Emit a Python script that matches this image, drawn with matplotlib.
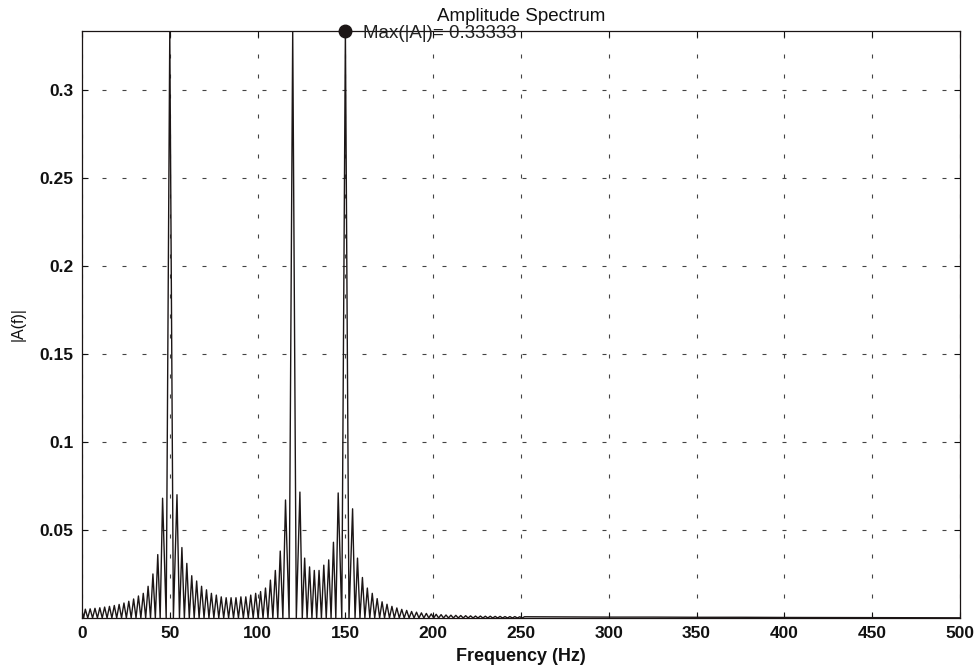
import numpy as np
import matplotlib
matplotlib.use("Agg")
import matplotlib.pyplot as plt

# Tone peaks of the spectrum (Hz, |A|)
tone_freq = [50.0, 120.0, 150.0]
tone_amp = [0.33333, 0.33333, 0.33333]

# Side-lobe peaks between 0 and 250 Hz
lobe_freq = [
    0.0, 1.9, 4.65, 7.4, 10.15, 12.9, 15.65, 18.4, 21.15, 23.9, 26.65, 29.4,
    32.15, 34.9, 37.65, 40.4, 43.15, 45.9,
    54.1, 56.9, 59.7, 62.5, 65.3, 68.1, 70.9, 73.7, 76.5, 79.3, 82.1, 84.9,
    87.7, 90.5, 93.3, 96.1, 98.9, 101.7, 104.5, 107.3, 110.1, 112.9, 115.9,
    124.1, 126.8, 129.6, 132.3, 135.0, 137.7, 140.5, 143.2, 145.9,
    154.1, 156.9, 159.7, 162.5, 165.3, 168.1, 170.9, 173.7, 176.5, 179.3,
    182.1, 184.9, 187.7, 190.5, 193.3, 196.1, 198.9, 201.7, 204.5, 207.3,
    210.1, 212.9, 215.7, 218.5, 221.3, 224.1, 226.9, 229.7, 232.5, 235.3,
    238.1, 240.9, 243.7, 246.5, 249.3,
]
lobe_amp = [
    0.0042, 0.0050, 0.0052, 0.0055, 0.0058, 0.0062, 0.0066, 0.0071, 0.0077,
    0.0085, 0.0095, 0.0108, 0.0125, 0.0140, 0.0180, 0.0250, 0.0360, 0.0680,
    0.0700, 0.0400, 0.0310, 0.0240, 0.0210, 0.0180, 0.0160, 0.0140, 0.0130,
    0.0120, 0.0115, 0.0115, 0.0115, 0.0120, 0.0120, 0.0130, 0.0140, 0.0150,
    0.0170, 0.0215, 0.0270, 0.0380, 0.0670,
    0.0715, 0.0340, 0.0290, 0.0270, 0.0270, 0.0300, 0.0330, 0.0430, 0.0710,
    0.0620, 0.0340, 0.0230, 0.0170, 0.0140, 0.0110, 0.0092, 0.0078, 0.0066,
    0.0057, 0.0049, 0.0043, 0.0037, 0.0033, 0.0029, 0.0026, 0.0023, 0.0021,
    0.0019, 0.0017, 0.0016, 0.0015, 0.0014, 0.0013, 0.0012, 0.0011, 0.0011,
    0.0010, 0.0010, 0.0009, 0.0009, 0.0008, 0.0008, 0.0008, 0.0007,
]

# Flat tail out to the Nyquist frequency
tail_freq = [252.0, 275.0, 300.0, 325.0, 350.0, 375.0, 400.0, 450.0, 500.0]
tail_amp = [0.0007, 0.0006, 0.0005, 0.0005, 0.0004, 0.0004, 0.0003, 0.0002, 0.0001]

x_ticks = [0, 50, 100, 150, 200, 250, 300, 350, 400, 450, 500]
y_ticks = [0.05, 0.1, 0.15, 0.2, 0.25, 0.3]
y_tick_labels = ["0.05", "0.1", "0.15", "0.2", "0.25", "0.3"]

# merge tones and side lobes, put a null between every pair of peaks
peak_freq = np.array(lobe_freq + tone_freq)
peak_amp = np.array(lobe_amp + tone_amp)
order = np.argsort(peak_freq)
peak_freq = peak_freq[order]
peak_amp = peak_amp[order]
null_freq = (peak_freq[:-1] + peak_freq[1:]) / 2

freq = np.empty(2 * len(peak_freq) - 1)
amp = np.zeros(2 * len(peak_freq) - 1)
freq[0::2] = peak_freq
freq[1::2] = null_freq
amp[0::2] = peak_amp
freq = np.concatenate([freq, [250.7], tail_freq])
amp = np.concatenate([amp, [0.0], tail_amp])

plt.rcParams['font.family'] = ['Liberation Sans', 'DejaVu Sans']

fig = plt.figure(figsize=(9.76, 6.65), dpi=100)
ax = fig.add_axes([0.084, 0.0707, 0.8996, 0.8827])

ax.plot(freq, amp, color="#1c1616", linewidth=1.0)

# mark the maximum (highest-frequency one when several tie)
i_max = int(np.flatnonzero(peak_amp == peak_amp.max())[-1])
ax.plot(peak_freq[i_max], peak_amp[i_max], "o", color="#1c1616",
        markersize=9, clip_on=False, zorder=5)
ax.text(peak_freq[i_max] + 10, peak_amp[i_max] - 0.0015,
        "Max(|A|)= %.5f" % peak_amp[i_max], fontsize=13.5,
        color="#222222", va="center", ha="left", zorder=6)

ax.set_xlim(0, 500)
ax.set_ylim(0, max(tone_amp))
ax.set_xticks(x_ticks)
ax.set_xticklabels([str(t) for t in x_ticks], fontweight="bold")
ax.set_yticks(y_ticks)
ax.set_yticklabels(y_tick_labels, fontweight="bold")
ax.tick_params(direction="in", length=4, labelsize=12.5, top=True,
               right=True, pad=6, colors="#111111")

ax.grid(True, color="#444444", linewidth=0.8, linestyle=(0, (3.6, 14.4)))
for spine in ax.spines.values():
    spine.set_linewidth(0.9)
    spine.set_color("#1a1414")

ax.set_title("Amplitude Spectrum", fontsize=13.5, pad=7, color="#111111")
ax.set_xlabel("Frequency (Hz)", fontsize=13, fontweight="bold",
              labelpad=5, color="#111111")
ax.set_ylabel("|A(f)|", fontsize=11.5, labelpad=10, color="#111111")

fig.savefig("out.png", dpi=100, facecolor="white")
